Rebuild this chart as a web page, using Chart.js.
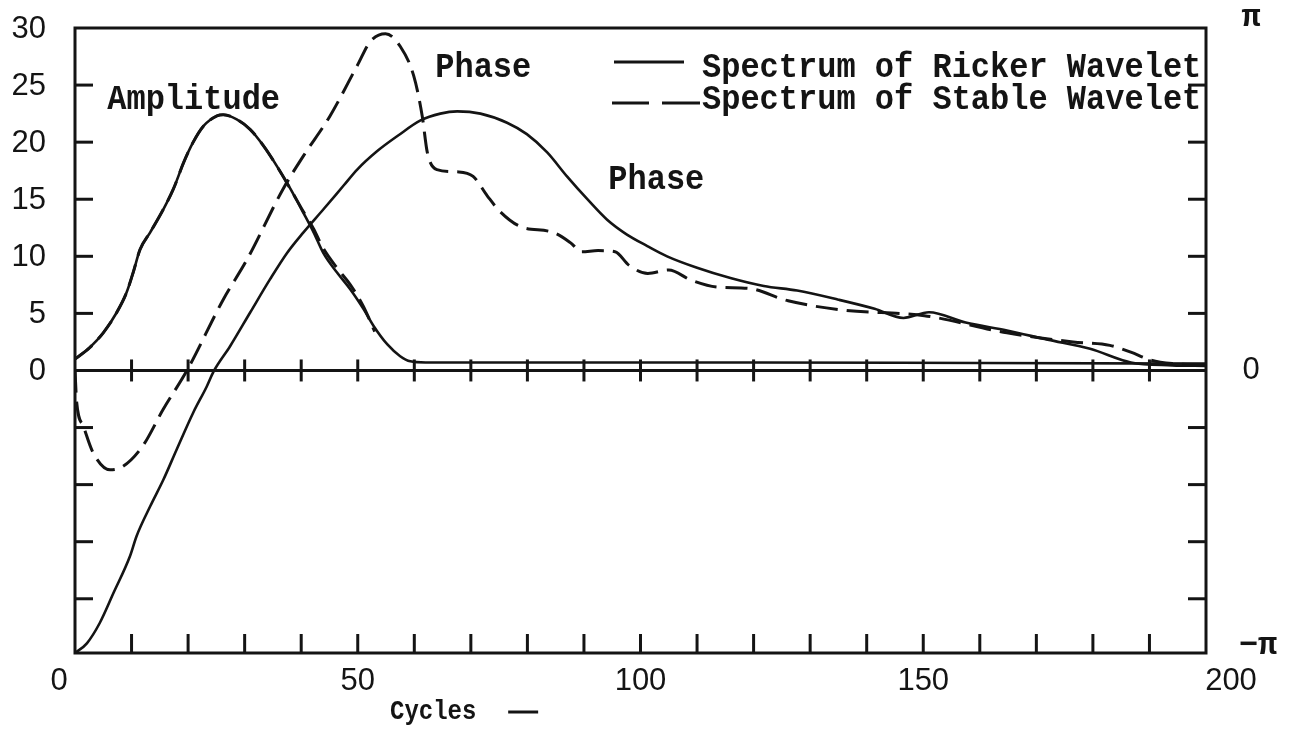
<!DOCTYPE html>
<html>
<head>
<meta charset="utf-8">
<title>Spectra of Ricker and Stable Wavelets</title>
<script src="https://cdn.jsdelivr.net/npm/chart.js@4/dist/chart.umd.min.js"></script>
<style>
  html, body { margin: 0; padding: 0; background: #ffffff; }
  #wrap { width: 1294px; height: 730px; }
</style>
</head>
<body>
<div id="wrap"><canvas id="chart" width="1294" height="730"></canvas></div>
<script>
// Amplitude spectrum of the Ricker wavelet (solid)
const rickerAmpCycles = [0, 2.6, 5, 7.4, 9.1, 10.3, 11.5, 13.3, 15.6, 17.4, 19.2, 20.9, 22.7, 25.1, 26.2, 28.6, 31, 33.3, 35.7, 38.1, 40.4, 42.2, 43.9, 46.3, 48.7, 51, 52.8, 55.2, 57.5, 59.3, 62, 80, 120, 160, 200];
const rickerAmpValues = [1.0, 2.0, 3.3, 5.1, 6.8, 8.6, 10.6, 12.1, 14.1, 15.9, 18.2, 20.0, 21.4, 22.3, 22.4, 22.0, 21.1, 19.7, 17.9, 15.9, 13.8, 12.1, 10.3, 8.6, 7.1, 5.4, 3.9, 2.3, 1.25, 0.8, 0.7, 0.7, 0.7, 0.65, 0.6];

// Amplitude spectrum of the stable wavelet (dashed)
const stableAmpCycles = [0, 2.6, 5, 7.4, 9.1, 10.3, 11.5, 13.3, 15.6, 17.4, 19.2, 20.9, 22.7, 25.1, 26.2, 28.6, 31, 33.3, 35.7, 38.1, 40.4, 42.2, 43.9, 46.3, 48.7, 51, 53];
const stableAmpValues = [1.0, 2.0, 3.3, 5.1, 6.8, 8.6, 10.6, 12.1, 14.1, 15.9, 18.2, 20.0, 21.4, 22.3, 22.4, 22.0, 21.1, 19.7, 17.9, 15.9, 13.9, 12.4, 10.7, 9.0, 7.5, 5.6, 3.4];

// Phase spectrum of the Ricker wavelet (solid), -π at the floor of the chart
const rickerPhaseCycles = [0, 2.1, 4.4, 6.8, 9.7, 10.9, 13.3, 15.6, 18, 20.9, 23.3, 24.5, 27.4, 31, 34.5, 37.5, 40.4, 43.9, 47.5, 49.9, 53.4, 57.2, 61.1, 64.6, 67.6, 71.7, 76.4, 79.9, 83.5, 87, 90.6, 94.1, 97.6, 101.2, 104.7, 110, 115.9, 121.8, 127.7, 135, 141.4, 146.5, 151, 157.5, 164.8, 172, 179.5, 186.7, 194, 200];
const rickerPhaseValues = [-24.75, -23.9, -22.1, -19.5, -16.3, -14.5, -11.9, -9.6, -6.9, -3.7, -1.4, -0.1, 2.1, 5.1, 8.0, 10.3, 12.1, 14.1, 16.2, 17.6, 19.2, 20.6, 21.9, 22.5, 22.7, 22.5, 21.7, 20.7, 19.1, 17.0, 15.0, 13.2, 11.9, 10.9, 10.0, 9.0, 8.1, 7.4, 7.0, 6.2, 5.4, 4.6, 5.1, 4.2, 3.5, 2.7, 1.9, 0.7, 0.45, 0.4];

// Phase spectrum of the stable wavelet (dashed)
const stablePhaseCycles = [0, 0.3, 1.5, 3.2, 6.2, 8.5, 12, 15.6, 19.8, 26.2, 30.4, 36.8, 40.4, 45.1, 49.9, 52.2, 54.9, 57.5, 59.9, 61.4, 62.3, 64, 67.5, 70.4, 72.9, 75.2, 78.8, 84.5, 87.6, 89.6, 92.5, 95.5, 98, 101.3, 105, 109, 113.7, 119, 126.1, 135.6, 150.2, 164.8, 176.5, 183, 186.7, 190.3, 194, 200];
const stablePhaseValues = [0, -2.8, -4.9, -7.2, -8.7, -8.4, -6.6, -3.4, 0, 6.2, 9.7, 15.9, 18.8, 22.3, 26.7, 28.8, 29.5, 28.4, 25.8, 22.3, 19.1, 17.6, 17.4, 17.0, 15.3, 13.9, 12.6, 12.1, 11.2, 10.4, 10.5, 10.4, 9.2, 8.5, 8.8, 7.9, 7.3, 7.2, 6.1, 5.3, 4.8, 3.3, 2.5, 2.2, 1.6, 0.9, 0.6, 0.5];

// Axis ticks and labels
const cycleTicks = [10, 20, 30, 40, 50, 60, 70, 80, 90, 100, 110, 120, 130, 140, 150, 160, 170, 180, 190];
const cycleLabels = [0, 50, 100, 150, 200];
const levelTicks = [-20, -15, -10, -5, 5, 10, 15, 20, 25];
const levelLabels = [0, 5, 10, 15, 20, 25, 30];
const phaseLabelValues = [30, 0, -24.75];
const phaseLabelTexts = ['π', '0', '−π'];
const legendTexts = ['Spectrum of Ricker Wavelet', 'Spectrum of Stable Wavelet'];
const axisTitle = 'Cycles';

const INK = '#141414';
const TYPE = 'bold 32px "Liberation Mono", "Courier New", monospace';
const LETTER = '31px "Liberation Sans", Arial, sans-serif';

function pts(xs, ys) { return xs.map((v, i) => ({ x: v, y: ys[i] })); }

function curve(label, xs, ys, dashed) {
  return {
    label,
    data: pts(xs, ys),
    borderColor: INK,
    borderWidth: dashed ? 3 : 2.6,
    borderDash: dashed ? [22, 9] : [],
    borderCapStyle: 'butt',
    pointRadius: 0,
    fill: false,
    cubicInterpolationMode: 'monotone'
  };
}

// typewritten text, slightly taller than the stock monospace face
function typeText(ctx, text, px, py, font) {
  ctx.save();
  ctx.font = font || TYPE;
  ctx.textAlign = 'left';
  ctx.textBaseline = 'alphabetic';
  ctx.translate(px, py);
  ctx.scale(1, 1.12);
  ctx.fillText(text, 0, 0);
  ctx.restore();
}

// Frame, inward ticks, axis labels, annotations and legend
const frameAndText = {
  id: 'frameAndText',
  afterDraw(chart) {
    const { ctx, chartArea: a, scales: { x, y } } = chart;
    const seg = (x1, y1, x2, y2) => { ctx.beginPath(); ctx.moveTo(x1, y1); ctx.lineTo(x2, y2); ctx.stroke(); };
    ctx.save();
    ctx.strokeStyle = INK;
    ctx.fillStyle = INK;
    ctx.lineCap = 'butt';

    // frame
    ctx.lineWidth = 3;
    ctx.strokeRect(a.left, a.top, a.right - a.left, a.bottom - a.top);

    // zero line
    const y0 = y.getPixelForValue(0);
    seg(a.left, y0, a.right, y0);

    // cycle ticks on the floor and across the zero line
    cycleTicks.forEach(v => {
      const px = x.getPixelForValue(v);
      seg(px, a.bottom, px, a.bottom - 19);
      seg(px, y0 - 11, px, y0 + 11);
    });

    // level ticks on both sides, pointing inward
    levelTicks.forEach(v => {
      const py = y.getPixelForValue(v);
      seg(a.left, py, a.left + 18, py);
      seg(a.right, py, a.right - 18, py);
    });

    // left amplitude labels
    ctx.font = LETTER;
    ctx.textAlign = 'right';
    ctx.textBaseline = 'middle';
    levelLabels.forEach(v => {
      ctx.fillText(String(v), a.left - 29, y.getPixelForValue(v) + 1);
    });

    // cycle labels below the floor
    ctx.textAlign = 'center';
    ctx.textBaseline = 'middle';
    const nudge = { 0: -16, 200: 25 };
    cycleLabels.forEach(v => {
      ctx.fillText(String(v), x.getPixelForValue(v) + (nudge[v] || 0), a.bottom + 28);
    });

    // right phase labels
    ctx.textAlign = 'center';
    phaseLabelValues.forEach((v, i) => {
      const t = phaseLabelTexts[i];
      let py = y.getPixelForValue(v);
      if (i === 0) py -= 10;
      if (i === 2) py -= 7;
      ctx.font = t === '0' ? LETTER : TYPE;
      ctx.fillText(t, a.right + (i === 2 ? 52 : 45), py);
    });

    // curve annotations
    typeText(ctx, 'Amplitude', x.getPixelForValue(5.7), y.getPixelForValue(22.9));
    typeText(ctx, 'Phase', x.getPixelForValue(63.7), y.getPixelForValue(25.7));
    typeText(ctx, 'Phase', x.getPixelForValue(94.3), y.getPixelForValue(15.9));

    // legend
    const lx = a.right - 504;
    ctx.lineWidth = 3;
    seg(lx - 88, a.top + 34, lx - 18, a.top + 34);
    seg(lx - 90, a.top + 75, lx - 53, a.top + 75);
    seg(lx - 40, a.top + 75, lx - 2, a.top + 75);
    typeText(ctx, legendTexts[0], lx, a.top + 49);
    typeText(ctx, legendTexts[1], lx, a.top + 81);

    // axis title
    typeText(ctx, axisTitle, x.getPixelForValue(55.7), a.bottom + 66, 'bold 24px "Liberation Mono", "Courier New", monospace');
    seg(x.getPixelForValue(76.6), a.bottom + 59, x.getPixelForValue(81.9), a.bottom + 59);

    ctx.restore();
  }
};

new Chart(document.getElementById('chart'), {
  type: 'line',
  data: {
    datasets: [
      curve('Ricker amplitude', rickerAmpCycles, rickerAmpValues, false),
      curve('Stable amplitude', stableAmpCycles, stableAmpValues, true),
      curve('Ricker phase', rickerPhaseCycles, rickerPhaseValues, false),
      curve('Stable phase', stablePhaseCycles, stablePhaseValues, true)
    ]
  },
  options: {
    responsive: false,
    animation: false,
    devicePixelRatio: 1,
    layout: { padding: { left: 75, right: 88, top: 28, bottom: 77 } },
    scales: {
      x: { type: 'linear', min: 0, max: 200, display: false },
      y: { type: 'linear', min: -24.75, max: 30, display: false }
    },
    plugins: {
      legend: { display: false },
      tooltip: { enabled: false }
    }
  },
  plugins: [frameAndText]
});
</script>
</body>
</html>
